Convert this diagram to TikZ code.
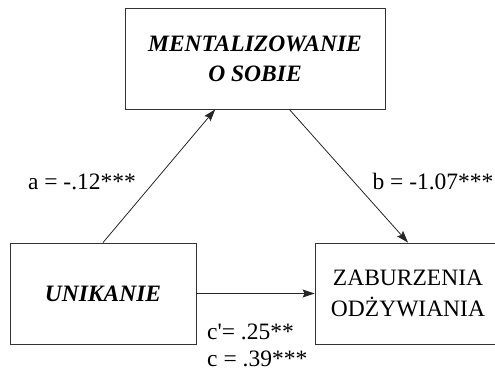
\documentclass[tikz,border=0pt]{standalone}
\usepackage{fontspec}
\setmainfont{Liberation Serif}
\usetikzlibrary{arrows.meta}

\begin{document}
\begin{tikzpicture}[x=1pt,y=-1pt,
    box/.style={draw=black!80,line width=0.9pt,inner sep=0pt,align=center},
    arr/.style={draw=black!85,line width=0.8pt,-{Stealth[length=12pt,width=8pt,inset=2pt]}},
    lab/.style={font=\fontsize{23.5}{30}\selectfont,inner sep=0pt}]
  \useasboundingbox (0,0) rectangle (495,369);

  \node[box,minimum width=260pt,minimum height=101pt,
    font=\fontsize{23.5}{30}\selectfont\bfseries\itshape] (mental) at (255,58.5)
    {MENTALIZOWANIE\\O SOBIE};
  \node[box,minimum width=186pt,minimum height=101pt,
    font=\fontsize{23.5}{30}\selectfont\bfseries\itshape] (unik) at (103,293.5)
    {UNIKANIE};
  \node[box,minimum width=186pt,minimum height=101pt,
    font=\fontsize{23.5}{31}\selectfont] (zab) at (408,293.5)
    {ZABURZENIA\\ODŻYWIANIA};

  \draw[arr] (unik.north) -- (mental.232);
  \draw[arr] (mental.304) -- (zab.north);
  \draw[arr] (unik.east) -- (zab.west);

  \node[lab,anchor=base] (a) at (82,189) {a = -.12***};
  \node[lab,anchor=base] (b) at (433,189) {b = -1.07***};
  \node[lab,anchor=base west] (cp) at (207,339) {c\textquotesingle= .25**};
  \node[lab,anchor=base west] (c) at (207,366.5) {c = .39***};
\end{tikzpicture}
\end{document}
